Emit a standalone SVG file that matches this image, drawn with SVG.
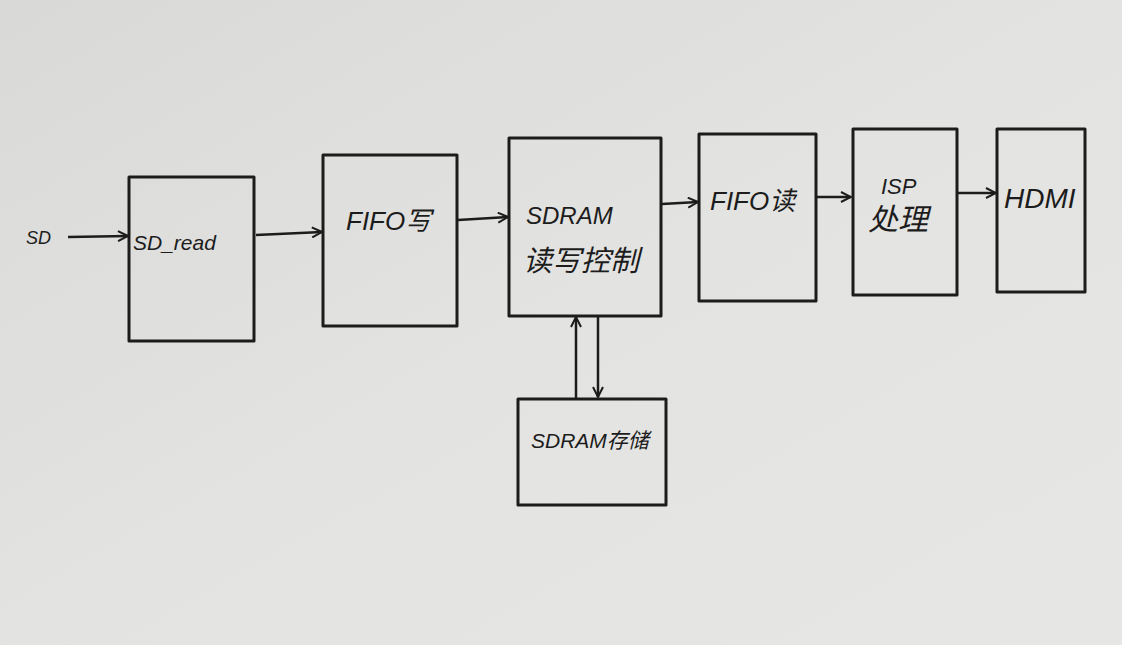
<svg xmlns="http://www.w3.org/2000/svg" width="1122" height="645" viewBox="0 0 1122 645">
<defs>
<linearGradient id="bg" x1="0" y1="0" x2="1" y2="1">
<stop offset="0" stop-color="#d9d9d7"/>
<stop offset="0.5" stop-color="#e3e3e1"/>
<stop offset="1" stop-color="#e6e6e4"/>
</linearGradient>
<marker id="ah" viewBox="0 0 12 12" refX="11" refY="6" markerWidth="12" markerHeight="12" markerUnits="userSpaceOnUse" orient="auto">
<path d="M1,1 L11,6 L1,11" fill="none" stroke="#1c1c1c" stroke-width="2"/>
</marker>
</defs>
<style>
.box{fill:none;stroke:#1c1c1c;stroke-width:3;stroke-linejoin:round}
.ln{fill:none;stroke:#1c1c1c;stroke-width:2.5;marker-end:url(#ah)}
.t{font-family:"Liberation Sans","Noto Sans CJK SC",sans-serif;fill:#1c1c1c;font-style:italic}
</style>
<rect width="1122" height="645" fill="url(#bg)"/>
<g id="connectors">
<line class="ln" x1="68" y1="237" x2="128" y2="236"/>
<line class="ln" x1="256" y1="235" x2="322" y2="232"/>
<line class="ln" x1="458" y1="220" x2="508" y2="217"/>
<line class="ln" x1="662" y1="204" x2="698" y2="202"/>
<line class="ln" x1="817" y1="197" x2="851" y2="197"/>
<line class="ln" x1="958" y1="193" x2="996" y2="193"/>
<line class="ln" x1="576" y1="398" x2="576" y2="317"/>
<line class="ln" x1="598" y1="317" x2="598" y2="397"/>
</g>
<g id="sd"><text class="t" x="26" y="244" font-size="18">SD</text></g>
<g id="sd_read"><rect class="box" x="129" y="177" width="125" height="164"/><text class="t" x="133" y="250" font-size="21">SD_read</text></g>
<g id="fifo_w"><rect class="box" x="323" y="155" width="134" height="171"/><text class="t" x="346" y="230" font-size="26">FIFO写</text></g>
<g id="sdram_ctrl"><rect class="box" x="509" y="138" width="152" height="178"/><text class="t" x="526" y="224" font-size="24">SDRAM</text><text class="t" x="523" y="271" font-size="29">读写控制</text></g>
<g id="fifo_r"><rect class="box" x="699" y="134" width="117" height="167"/><text class="t" x="710" y="210" font-size="26">FIFO读</text></g>
<g id="isp"><rect class="box" x="853" y="129" width="104" height="166"/><text class="t" x="881" y="194" font-size="22">ISP</text><text class="t" x="868" y="230" font-size="30">处理</text></g>
<g id="hdmi"><rect class="box" x="997" y="129" width="88" height="163"/><text class="t" x="1004" y="208" font-size="28">HDMI</text></g>
<g id="sdram_mem"><rect class="box" x="518" y="399" width="148" height="106"/><text class="t" x="531" y="448" font-size="21">SDRAM存储</text></g>
</svg>
